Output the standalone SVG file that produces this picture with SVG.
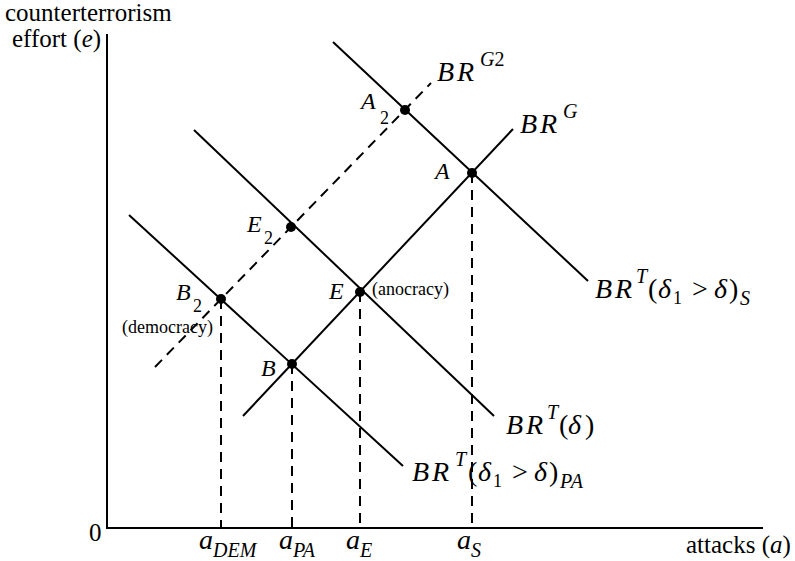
<svg xmlns="http://www.w3.org/2000/svg" width="795" height="561" viewBox="0 0 795 561">
<style>
text{font-family:"Liberation Serif","Times New Roman",serif;fill:#000}
.ax{font-size:25px}
.it{font-style:italic}
.br{font-size:28px;font-style:italic}
.sup{font-size:20px;font-style:italic}
.up{font-style:normal}
.pt{font-size:24px;font-style:italic}
.sub2{font-size:18px;font-style:normal}
.note{font-size:18px}
.ln{stroke:#000;stroke-width:2;fill:none}
.dash{stroke:#000;stroke-width:2;fill:none;stroke-dasharray:10 7}
.dot{fill:#000}
</style>
<rect width="795" height="561" fill="#fff"/>
<g id="axes">
<line class="ln" x1="107" y1="34" x2="107" y2="529"/>
<line class="ln" x1="106" y1="528" x2="763" y2="528"/>
<text class="ax" x="5" y="21">counterterrorism</text>
<text class="ax" x="12" y="47">effort (<tspan class="it">e</tspan>)</text>
<text class="ax" x="89" y="541">0</text>
<text class="ax" x="686" y="553">attacks (<tspan class="it">a</tspan>)</text>
</g>
<g id="connectors">
<line id="BRG" class="ln" x1="243" y1="416" x2="513" y2="129"/>
<line id="BRG2" class="dash" x1="155" y1="367" x2="431" y2="83"/>
<line id="BRTS" class="ln" x1="333" y1="42" x2="588" y2="281"/>
<line id="BRTd" class="ln" x1="194" y1="130" x2="494" y2="416"/>
<line id="BRTPA" class="ln" x1="129" y1="215" x2="403" y2="466"/>
<line class="dash" x1="221" y1="299" x2="221" y2="528"/>
<line class="dash" x1="292" y1="364" x2="292" y2="528"/>
<line class="dash" x1="360" y1="292" x2="360" y2="528"/>
<line class="dash" x1="472" y1="173" x2="472" y2="528"/>
</g>
<g id="label-BRG2"><text class="br" x="437" y="81" letter-spacing="3">BR<tspan class="sup" x="480" y="66" letter-spacing="0">G</tspan><tspan class="sup up" letter-spacing="0">2</tspan></text></g>
<g id="label-BRG"><text class="br" x="520" y="133" letter-spacing="3">BR<tspan class="sup" x="563" y="118" letter-spacing="0">G</tspan></text></g>
<g id="label-BRTS"><text class="br" x="595" y="298" letter-spacing="3">BR<tspan class="sup" x="636" y="283" letter-spacing="0">T</tspan><tspan class="up" x="648" y="298" letter-spacing="0">(</tspan><tspan x="658">δ</tspan><tspan class="sub2" x="673" y="304">1</tspan><tspan class="up" x="692" y="298">&gt;</tspan><tspan x="714">δ</tspan><tspan class="up" x="729">)</tspan><tspan class="sup" x="740" y="305">S</tspan></text></g>
<g id="label-BRTd"><text class="br" x="506" y="434" letter-spacing="3">BR<tspan class="sup" x="547" y="419" letter-spacing="0">T</tspan><tspan class="up" x="559" y="434" letter-spacing="0">(</tspan><tspan x="568">δ</tspan><tspan class="up" x="585">)</tspan></text></g>
<g id="label-BRTPA"><text class="br" x="412" y="481" letter-spacing="3">BR<tspan class="sup" x="455" y="466" letter-spacing="0">T</tspan><tspan class="up" x="468" y="481" letter-spacing="0">(</tspan><tspan x="478">δ</tspan><tspan class="sub2" x="493" y="487">1</tspan><tspan class="up" x="512" y="481">&gt;</tspan><tspan x="534">δ</tspan><tspan class="up" x="549">)</tspan><tspan class="sup" x="560" y="488" letter-spacing="1">PA</tspan></text></g>
<g id="node-A2"><circle class="dot" cx="405" cy="110" r="5"/><text class="pt" x="361" y="109">A</text><text class="sub2" x="380" y="124">2</text></g>
<g id="node-A"><circle class="dot" cx="472" cy="173" r="5"/><text class="pt" x="435" y="179">A</text></g>
<g id="node-E2"><circle class="dot" cx="291" cy="227" r="5"/><text class="pt" x="247" y="232">E</text><text class="sub2" x="264" y="244">2</text></g>
<g id="node-E"><circle class="dot" cx="360" cy="292" r="5"/><text class="pt" x="329" y="299">E</text><text class="note" x="372" y="295">(anocracy)</text></g>
<g id="node-B2"><circle class="dot" cx="221" cy="299" r="5"/><text class="pt" x="176" y="300">B</text><text class="sub2" x="193" y="312">2</text><text class="note" x="122" y="333">(democracy)</text></g>
<g id="node-B"><circle class="dot" cx="292" cy="364" r="5"/><text class="pt" x="261" y="376">B</text></g>
<g id="xlabels">
<text class="it" font-size="28" x="199" y="549">a<tspan class="sup" font-size="18" y="557">DEM</tspan></text>
<text class="it" font-size="28" x="279" y="549">a<tspan class="sup" font-size="18" y="557">PA</tspan></text>
<text class="it" font-size="28" x="346" y="549">a<tspan class="sup" font-size="18" y="557">E</tspan></text>
<text class="it" font-size="28" x="457" y="549">a<tspan class="sup" font-size="18" y="557">S</tspan></text>
</g>
</svg>
